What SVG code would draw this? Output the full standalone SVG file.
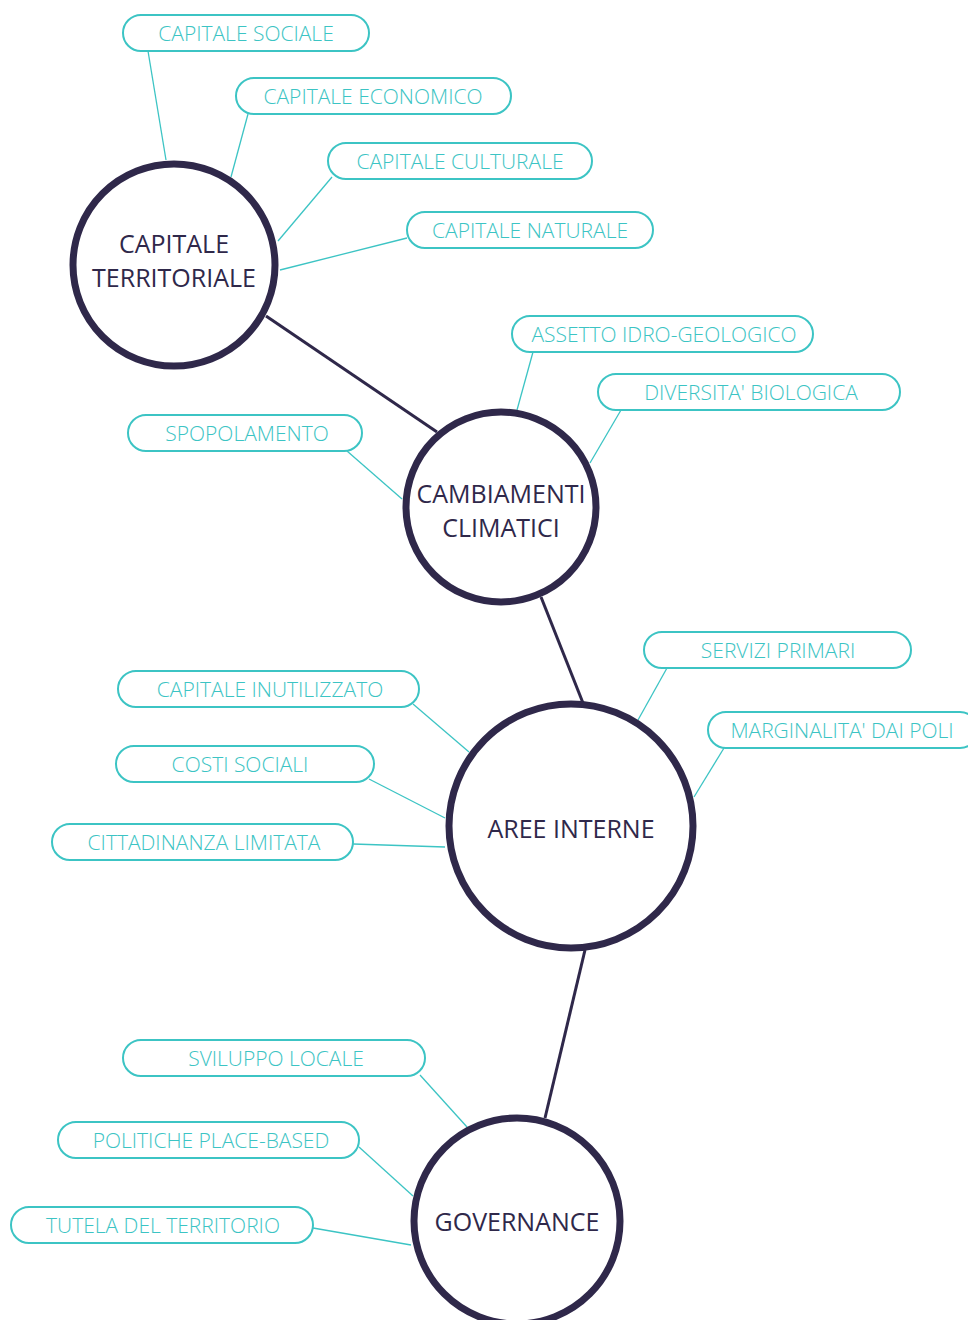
<svg xmlns="http://www.w3.org/2000/svg" width="968" height="1320" viewBox="0 0 968 1320">
  <style>
    .pill rect { fill: #ffffff; stroke: #3cc4c4; stroke-width: 2; }
    .pill text { font-family: "Open Sans", "Liberation Sans", sans-serif; font-weight: 300; font-size: 21px; fill: #3cc4c4; text-anchor: middle; }
    .hub circle { fill: #ffffff; stroke: #2f284a; stroke-width: 7; }
    .hub text { font-family: "Open Sans", "Liberation Sans", sans-serif; font-weight: 400; font-size: 25px; fill: #2f284a; text-anchor: middle; }
    .thin { stroke: #3cc4c4; stroke-width: 1.3; fill: none; }
    .thick { stroke: #2f284a; stroke-width: 3; fill: none; }
  </style>
  <rect width="968" height="1320" fill="#ffffff"/>

  <!-- connectors -->
  <g id="connectors">
    <line class="thick" x1="266" y1="316" x2="437" y2="432"/>
    <line class="thick" x1="541" y1="597" x2="583" y2="703"/>
    <line class="thick" x1="585" y1="950" x2="545" y2="1118"/>

    <line class="thin" x1="148" y1="51" x2="166" y2="160"/>
    <line class="thin" x1="248" y1="114" x2="231" y2="177"/>
    <line class="thin" x1="332" y1="177" x2="278" y2="241"/>
    <line class="thin" x1="407" y1="238" x2="280" y2="270"/>
    <line class="thin" x1="533" y1="352" x2="517" y2="410"/>
    <line class="thin" x1="621" y1="410" x2="590" y2="463"/>
    <line class="thin" x1="347" y1="451" x2="402" y2="499"/>
    <line class="thin" x1="667" y1="668" x2="638" y2="720"/>
    <line class="thin" x1="724" y1="748" x2="694" y2="797"/>
    <line class="thin" x1="413" y1="704" x2="469" y2="752"/>
    <line class="thin" x1="369" y1="779" x2="445" y2="818"/>
    <line class="thin" x1="353" y1="844" x2="445" y2="847"/>
    <line class="thin" x1="420" y1="1075" x2="467" y2="1127"/>
    <line class="thin" x1="359" y1="1147" x2="413" y2="1196"/>
    <line class="thin" x1="313" y1="1228" x2="411" y2="1245"/>
  </g>

  <!-- main themes -->
  <g id="capitale-territoriale" class="hub">
    <circle cx="174" cy="265" r="101"/>
    <text x="174" y="253">CAPITALE</text>
    <text x="174" y="287">TERRITORIALE</text>
  </g>
  <g id="cambiamenti-climatici" class="hub">
    <circle cx="501" cy="507" r="95"/>
    <text x="501" y="503">CAMBIAMENTI</text>
    <text x="501" y="537">CLIMATICI</text>
  </g>
  <g id="aree-interne" class="hub">
    <circle cx="571" cy="826" r="122"/>
    <text x="571" y="838">AREE INTERNE</text>
  </g>
  <g id="governance" class="hub">
    <circle cx="517" cy="1221" r="103"/>
    <text x="517" y="1231">GOVERNANCE</text>
  </g>

  <!-- labels -->
  <g id="capitale-sociale" class="pill">
    <rect x="123" y="15" width="246" height="36" rx="18"/>
    <text x="246" y="41">CAPITALE SOCIALE</text>
  </g>
  <g id="capitale-economico" class="pill">
    <rect x="236" y="78" width="275" height="36" rx="18"/>
    <text x="373" y="104">CAPITALE ECONOMICO</text>
  </g>
  <g id="capitale-culturale" class="pill">
    <rect x="328" y="143" width="264" height="36" rx="18"/>
    <text x="460" y="169">CAPITALE CULTURALE</text>
  </g>
  <g id="capitale-naturale" class="pill">
    <rect x="407" y="212" width="246" height="36" rx="18"/>
    <text x="530" y="238">CAPITALE NATURALE</text>
  </g>
  <g id="assetto-idrogeologico" class="pill">
    <rect x="512" y="316" width="301" height="36" rx="18"/>
    <text x="664" y="342">ASSETTO IDRO-GEOLOGICO</text>
  </g>
  <g id="diversita-biologica" class="pill">
    <rect x="598" y="374" width="302" height="36" rx="18"/>
    <text x="751" y="400">DIVERSITA' BIOLOGICA</text>
  </g>
  <g id="spopolamento" class="pill">
    <rect x="128" y="415" width="234" height="36" rx="18"/>
    <text x="247" y="441">SPOPOLAMENTO</text>
  </g>
  <g id="servizi-primari" class="pill">
    <rect x="644" y="632" width="267" height="36" rx="18"/>
    <text x="778" y="658">SERVIZI PRIMARI</text>
  </g>
  <g id="marginalita-dai-poli" class="pill">
    <rect x="708" y="712" width="270" height="36" rx="18"/>
    <text x="842" y="738">MARGINALITA' DAI POLI</text>
  </g>
  <g id="capitale-inutilizzato" class="pill">
    <rect x="118" y="671" width="301" height="36" rx="18"/>
    <text x="270" y="697">CAPITALE INUTILIZZATO</text>
  </g>
  <g id="costi-sociali" class="pill">
    <rect x="116" y="746" width="258" height="36" rx="18"/>
    <text x="240" y="772">COSTI SOCIALI</text>
  </g>
  <g id="cittadinanza-limitata" class="pill">
    <rect x="52" y="824" width="301" height="36" rx="18"/>
    <text x="204" y="850">CITTADINANZA LIMITATA</text>
  </g>
  <g id="sviluppo-locale" class="pill">
    <rect x="123" y="1040" width="302" height="36" rx="18"/>
    <text x="276" y="1066">SVILUPPO LOCALE</text>
  </g>
  <g id="politiche-place-based" class="pill">
    <rect x="58" y="1122" width="301" height="36" rx="18"/>
    <text x="211" y="1148">POLITICHE PLACE-BASED</text>
  </g>
  <g id="tutela-del-territorio" class="pill">
    <rect x="11" y="1207" width="302" height="36" rx="18"/>
    <text x="163" y="1233">TUTELA DEL TERRITORIO</text>
  </g>
</svg>
